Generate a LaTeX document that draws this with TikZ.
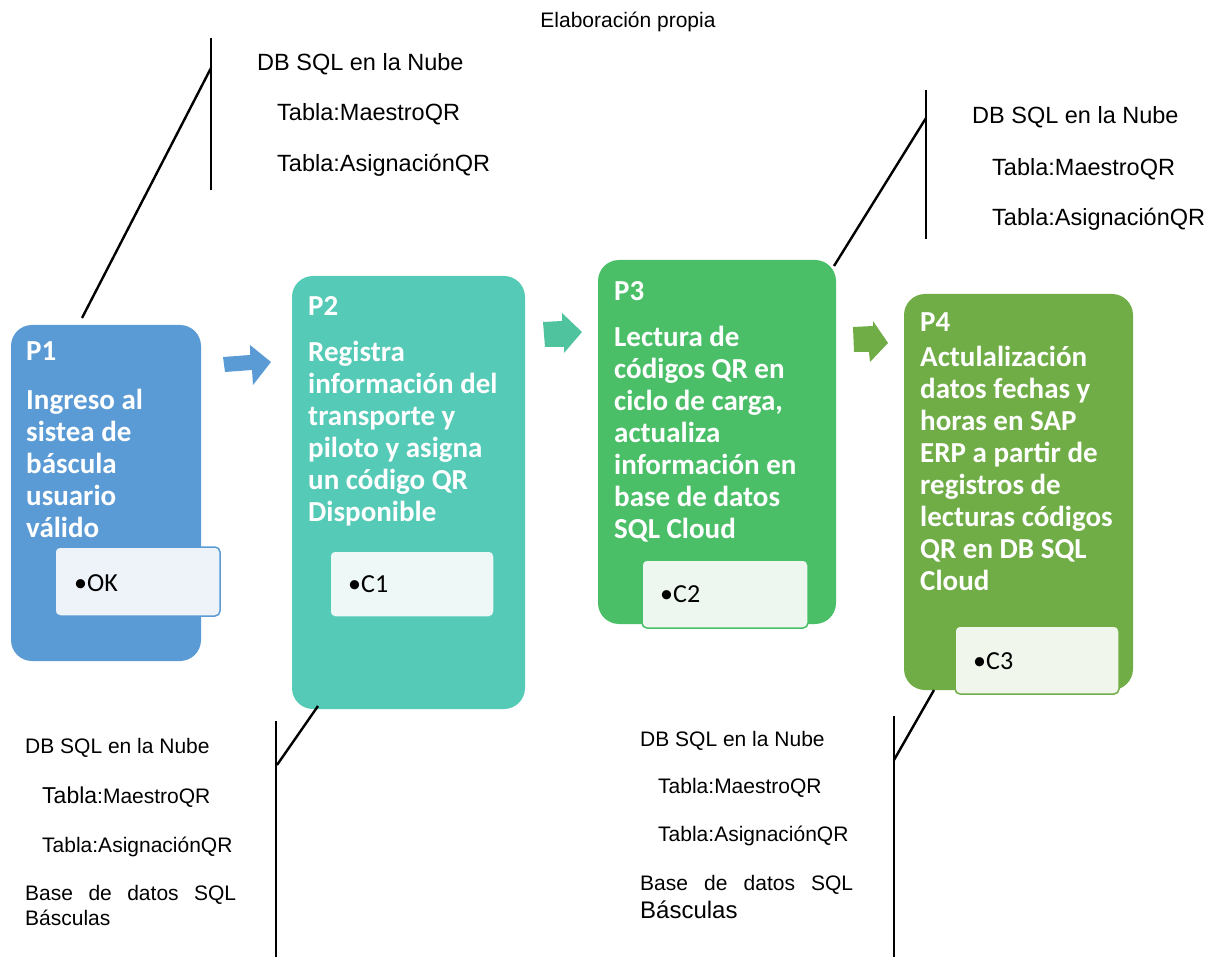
\documentclass[tikz,border=0pt]{standalone}
\usepackage{fontspec}
\setmainfont{Liberation Sans}
\newfontfamily\calibri{Carlito}
\definecolor{stageA}{HTML}{5B9BD5}
\definecolor{stageB}{HTML}{55CAB7}
\definecolor{stageC}{HTML}{4BBF68}
\definecolor{stageD}{HTML}{70AD47}
\definecolor{arrowB}{HTML}{4FC39E}
\definecolor{itemA}{HTML}{EEF3FA}
\definecolor{itemB}{HTML}{EEF8F6}
\definecolor{itemC}{HTML}{EDF7EF}
\definecolor{itemD}{HTML}{F0F6EC}
\tikzset{
  stage/.style={rounded corners=21pt, inner sep=0pt, draw=none},
  itembox/.style={rounded corners=5pt, inner sep=0pt, line width=1.5pt},
  heading/.style={font=\calibri\bfseries\fontsize{29}{32}\selectfont, text=white,
    anchor=base west, inner sep=0pt, align=left},
  itemtext/.style={font=\calibri\fontsize{26}{30}\selectfont, anchor=base west, inner sep=0pt},
  note/.style={font=\fontsize{21}{25}\selectfont, anchor=base west, inner sep=0pt},
  bignote/.style={font=\fontsize{23.5}{28}\selectfont, anchor=base west, inner sep=0pt},
  callout/.style={line width=2.4pt, black}
}
\begin{document}
\begin{tikzpicture}[x=1pt, y=-1pt]
  \useasboundingbox (0,0) rectangle (1210,957);

  \node[font=\fontsize{21}{25}\selectfont, anchor=base, inner sep=0pt] (title) at (628,28) {Elaboración propia};

  % stages
  \node[stage, fill=stageA, minimum width=190, minimum height=336] (p1) at (106,493) {};
  \node[stage, fill=stageB, minimum width=233, minimum height=433] (p2) at (408.5,492.5) {};
  \node[stage, fill=stageC, minimum width=238, minimum height=364] (p3) at (717,442) {};
  \node[stage, fill=stageD, minimum width=229, minimum height=396] (p4) at (1018.5,492) {};

  % base of a heading block = its last line
  \node[heading] (p1h) at (26,361) {P1};
  \node[heading] (p1t) at (26,537) {Ingreso al\\sistea de\\báscula\\usuario\\válido};
  \node[heading] (p2h) at (308,316) {P2};
  \node[heading] (p2t) at (308,521) {Registra\\información del\\transporte y\\piloto y asigna\\un código QR\\Disponible};
  \node[heading] (p3h) at (614,301) {P3};
  \node[heading] (p3t) at (614,538) {Lectura de\\códigos QR en\\ciclo de carga,\\actualiza\\información en\\base de datos\\SQL Cloud};
  \node[heading] (p4h) at (920,332) {P4};
  \node[heading] (p4t) at (920,590) {Actulalización\\datos fechas y\\horas en SAP\\ERP a partir de\\registros de\\lecturas códigos\\QR en DB SQL\\Cloud};

  % results
  \node[itembox, fill=itemA, draw=stageA, minimum width=165, minimum height=69] (ok) at (137.5,581.5) {};
  \node[itembox, fill=itemB, draw=stageB, minimum width=164, minimum height=66] (c1) at (412,584) {};
  \node[itembox, fill=itemC, draw=stageC, minimum width=166, minimum height=68] (c2) at (725,594) {};
  \node[itembox, fill=itemD, draw=stageD, minimum width=164, minimum height=68] (c3) at (1037,660) {};
  \node[itemtext] (okt) at (74,591) {•OK};
  \node[itemtext] (c1t) at (348,592) {•C1};
  \node[itemtext] (c2t) at (660,602) {•C2};
  \node[itemtext] (c3t) at (973,669) {•C3};

  % arrows
  \fill[stageA] (223,357) -- (250,355) -- (250,345) -- (271,362) -- (253,385) -- (252,370) -- (225,372) -- cycle;
  \fill[arrowB] (543,322) -- (562,321) -- (562,313) -- (582,332) -- (564,353) -- (564,347) -- (545,347) -- cycle;
  \fill[stageD] (853,327) -- (873,326) -- (873,321) -- (888,343) -- (870,362) -- (869,352) -- (854,352) -- cycle;

  % callouts
  \coordinate (tla) at (82,318);
  \coordinate (tlb) at (211,68);
  \coordinate (tlt) at (211,38);
  \coordinate (tlu) at (211,190);
  \draw[callout] (tla) -- (tlb);
  \draw[callout] (tlt) -- (tlu);
  \coordinate (tra) at (834,266);
  \coordinate (trb) at (926,118);
  \coordinate (trt) at (926,90);
  \coordinate (tru) at (926,239);
  \draw[callout] (tra) -- (trb);
  \draw[callout] (trt) -- (tru);
  \coordinate (bla) at (318,706);
  \coordinate (blb) at (277,765);
  \coordinate (blt) at (276,721);
  \coordinate (blu) at (276,957);
  \draw[callout] (bla) -- (blb);
  \draw[callout] (blt) -- (blu);
  \coordinate (bra) at (934,690);
  \coordinate (brb) at (894,760);
  \coordinate (brt) at (894,716);
  \coordinate (bru) at (894,957);
  \draw[callout] (bra) -- (brb);
  \draw[callout] (brt) -- (bru);

  % notes
  \node[bignote] (n1a) at (257,70.5) {DB SQL en la Nube};
  \node[bignote] (n1b) at (277,120.5) {Tabla:MaestroQR};
  \node[bignote] (n1c) at (277,171.5) {Tabla:AsignaciónQR};
  \node[bignote] (n2a) at (972,123.5) {DB SQL en la Nube};
  \node[bignote] (n2b) at (992,175.5) {Tabla:MaestroQR};
  \node[bignote] (n2c) at (992,225.5) {Tabla:AsignaciónQR};
  \node[note] (n3a) at (25,753.5) {DB SQL en la Nube};
  \node[note] (n3b) at (42,803.5) {{\fontsize{23}{27}\selectfont Tabla}:MaestroQR};
  \node[note] (n3c) at (42,852.5) {Tabla:AsignaciónQR};
  \node[note] (n3d) at (25,900.5) {\makebox[211pt][s]{Base de datos SQL}};
  \node[note] (n3e) at (25,925.5) {Básculas};
  \node[note] (n4a) at (640,746.5) {DB SQL en la Nube};
  \node[note] (n4b) at (658,793.5) {Tabla:MaestroQR};
  \node[note] (n4c) at (658,841.5) {Tabla:AsignaciónQR};
  \node[note] (n4d) at (640,890.5) {\makebox[213pt][s]{Base de datos SQL}};
  \node[note, font=\fontsize{24}{28}\selectfont] (n4e) at (640,918.5) {Básculas};
\end{tikzpicture}
\end{document}
